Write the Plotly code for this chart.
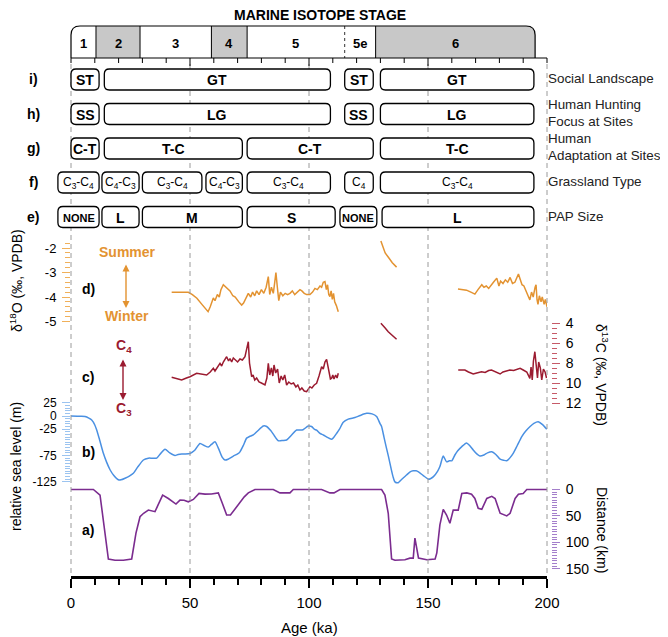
import plotly.graph_objects as go

# ---------------- data ----------------
# d) oxygen isotopes, d18O (permil, VPDB) - three segments
d18o_age_1 = [42.3, 49.3, 51.0, 52.9, 55.0, 57.6, 58.5, 59.8, 60.5, 61.5, 62.3, 63.0, 64.0, 65.2, 66.8, 68.0,
              69.0, 70.5, 71.7, 72.5, 73.5, 74.5, 75.5, 76.3, 77.2, 78.0, 79.0, 80.0, 81.0, 82.0, 82.9, 83.5,
              84.2, 85.0, 85.6, 86.1, 86.7, 87.3, 88.0, 89.0, 90.0, 91.0, 92.0, 93.0, 94.0, 95.0, 96.2, 97.0,
              98.0, 99.0, 100.4, 101.5, 102.5, 103.5, 104.6, 105.3, 106.0, 106.7, 107.3, 107.8, 108.3, 108.8,
              109.3, 109.8, 110.3, 110.8, 111.5, 112.3]
d18o_val_1 = [-3.81, -3.81, -3.9, -4.05, -4.3, -4.6, -4.4, -4.04, -4.15, -3.9, -4.0, -3.7, -3.5, -3.6, -3.75, -3.95,
              -4.0, -4.2, -4.33, -4.25, -4.05, -3.85, -4.0, -3.8, -3.95, -3.75, -3.9, -3.7, -3.85, -3.6, -3.17, -3.9,
              -3.6, -3.85, -3.4, -3.0, -3.6, -4.15, -3.8, -3.95, -3.85, -3.9, -3.85, -3.75, -3.9, -3.8, -3.7, -3.75,
              -3.85, -3.9, -3.9, -3.8, -3.65, -3.7, -3.55, -3.6, -3.4, -3.37, -3.7, -3.5, -3.9, -3.98,
              -3.75, -4.1, -3.85, -4.2, -4.35, -4.6]
d18o_age_2 = [130.2, 131.0, 132.0, 133.5, 135.0, 136.8]
d18o_val_2 = [-1.71, -1.95, -2.2, -2.4, -2.6, -2.78]
d18o_age_3 = [162.6, 164.0, 166.2, 168.0, 169.7, 171.0, 172.6, 173.5, 174.5, 175.5, 176.5, 177.5, 178.9, 179.8,
              180.5, 181.5, 182.5, 183.5, 184.5, 185.5, 186.5, 187.2, 188.0, 188.8, 189.5, 190.3, 191.0, 192.0,
              192.8, 193.5, 194.2, 195.0, 195.4, 195.8, 196.2, 196.8, 197.5, 198.0, 198.8, 199.3, 200.0]
d18o_val_3 = [-3.67, -3.68, -3.72, -3.8, -3.88, -3.7, -3.5, -3.6, -3.55, -3.65, -3.5, -3.4, -3.23, -3.55,
              -3.35, -3.45, -3.3, -3.4, -3.2, -3.45, -3.4, -3.2, -3.06, -3.3, -3.5, -3.55, -3.7, -3.9,
              -4.12, -3.8, -4.0, -3.6, -3.5, -4.1, -4.3, -3.95, -4.2, -4.0, -4.3, -4.1, -4.4]

# c) carbon isotopes, d13C (permil, VPDB) - three segments
d13c_age_1 = [42.3, 44.5, 46.5, 48.5, 50.0, 52.8, 55.0, 57.0, 58.5, 59.8, 60.5, 61.5, 62.6, 63.3, 64.0, 65.4,
              66.2, 66.8, 67.5, 68.2, 69.0, 70.0, 71.0, 72.0, 73.1, 74.0, 74.5, 75.0, 75.9, 76.5, 77.2, 78.0,
              79.0, 80.0, 81.5, 82.3, 82.9, 83.5, 84.2, 84.8, 85.3, 86.0, 86.8, 87.5, 88.3, 89.0, 89.8, 90.6,
              91.5, 92.5, 93.5, 94.5, 95.3, 96.2, 97.0, 98.0, 99.0, 100.4, 101.2, 102.2, 103.2, 104.2, 104.8,
              105.3, 106.0, 106.7, 107.4, 108.0, 108.5, 109.0, 109.5, 110.0, 110.5, 111.2, 111.8, 112.3]
d13c_val_1 = [9.43, 9.6, 9.7, 9.5, 9.37, 9.03, 9.15, 9.2, 8.9, 8.53, 8.8, 8.4, 8.03, 8.3, 7.9, 7.37,
              7.8, 7.55, 7.9, 7.5, 7.7, 7.9, 7.6, 7.7, 7.37, 6.5, 5.87, 8.0, 9.37, 9.2, 9.7, 9.5,
              9.9, 10.0, 10.2, 9.5, 8.03, 9.2, 8.5, 9.3, 8.2, 9.0, 8.6, 10.0, 9.3, 9.7, 9.2, 10.2,
              9.9, 10.1, 10.0, 10.4, 10.2, 10.7, 10.5, 10.8, 10.87, 10.37, 10.5, 10.2, 10.03, 9.3, 8.9,
              8.37, 8.6, 7.9, 7.63, 8.5, 9.03, 9.6, 9.53, 9.2, 9.6, 9.2, 9.5, 9.03]
d13c_age_2 = [130.2, 131.0, 132.0, 133.3, 135.0, 136.8]
d13c_val_2 = [4.03, 4.2, 4.5, 4.87, 5.25, 5.63]
d13c_age_3 = [162.7, 165.5, 167.0, 169.0, 170.5, 172.5, 174.0, 175.5, 176.7, 178.0, 180.3, 181.5, 183.0, 184.4,
              186.0, 187.5, 188.7, 190.0, 191.5, 192.8, 193.3, 193.8, 194.3, 194.9, 195.5, 196.0, 196.5, 197.2,
              197.8, 198.5, 199.2, 199.8]
d13c_val_3 = [8.7, 8.7, 8.9, 9.1, 9.0, 8.87, 8.95, 8.75, 8.7, 8.85, 9.1, 8.9, 8.8, 8.7,
              8.75, 8.6, 8.53, 8.7, 8.9, 9.53, 8.4, 9.7, 7.8, 6.87, 8.7, 9.5, 7.9, 8.5,
              9.7, 8.6, 8.9, 9.5]

# b) relative sea level (m)
sl_age = [0, 4, 5.9, 7.5, 8.7, 10, 10.8, 12, 13.6, 15, 16.4, 18, 19.9, 21, 22.7, 24.5, 26.2, 28, 30.4, 32.5,
          34, 36, 37.5, 39.5, 41.5, 43.7, 45, 46.5, 48, 50, 52, 54.2, 56, 57.7, 59, 60.5, 62, 63.5, 64.7, 66,
          68.2, 70, 71, 72.5, 73.8, 75, 76.6, 78.5, 80.8, 82, 84, 85.5, 87.1, 89, 90.6, 92.5, 94.8, 96.2, 97.5,
          99.7, 101.1, 102.2, 103.2, 104.6, 106, 107.5, 109.5, 110.5, 111.6, 112.8, 114.4, 116.5, 119.3, 121.5,
          124.2, 126.5, 128.4, 129.8, 130.5, 131.5, 132.5, 133.4, 134.5, 135.3, 136.1, 137.5, 139, 141, 142.5,
          143.8, 145, 146, 148, 150.2, 151, 152.3, 154, 155, 156.4, 157.8, 159, 160, 161.3, 162.5, 164.2, 166.2,
          167.5, 169, 170.5, 171.8, 173.5, 175, 176.8, 178.5, 180.3, 181.8, 183.1, 184.5, 185.8, 187.5, 189.4,
          191, 192.9, 194.5, 196.3, 198, 199.9]
sl_val = [0, -0.5, -1, -4, -7.6, -17, -26.6, -45, -70.8, -88, -102, -113, -121, -121, -118, -114, -108.8, -97, -83.5, -80,
          -80, -80, -72, -63, -70, -75, -73, -72, -72, -71, -65, -52, -56, -59, -54, -49, -62, -78, -83.5, -82,
          -76, -72, -68, -55, -42, -39, -36, -28, -19, -19.5, -28, -38, -47, -46.5, -45.5, -37, -26.6, -26.6, -26,
          -19, -20, -25, -27, -33, -36, -40, -44, -40, -33, -25, -12, -6, -3, 1,
          5, 4, -1, -14, -20, -40, -60, -77, -100, -115, -125, -126.6, -120, -112, -106,
          -104, -104, -106, -113, -120, -119, -115, -105, -96, -76, -87, -85, -85, -74, -66, -58, -51,
          -56, -64.5, -72, -76, -74, -70, -68, -73, -82, -84, -85, -79, -71, -56, -39,
          -29, -20, -14, -11, -16, -25]

# a) distance (km)
dist_age = [0, 9.4, 12.2, 13.5, 15.7, 18.5, 22, 25.5, 27.3, 29, 30.5, 32.5, 34, 35.3, 36.5, 38.5, 40.9, 42.5, 44.1,
            45.8, 47.5, 49.3, 51.4, 53.8, 56.3, 59, 61.9, 63.5, 65.4, 67, 69, 71, 72.8, 74.5, 77.3, 85, 87.8, 92,
            93.4, 105.3, 108.8, 110.5, 113, 130.5, 131.9, 133.3, 134.7, 136.1, 140.3, 142.4, 143.8, 144.5, 146,
            149.5, 153, 153.7, 155, 156.4, 157.8, 159.2, 160.6, 162.7, 164.2, 166.3, 168.3, 169.7, 171.1, 172.6,
            174.7, 176.8, 178.2, 180.3, 183.1, 184.5, 186.6, 188, 190, 191.5, 200]
dist_val = [0, 0, 10.7, 60, 131.6, 134, 134, 131.6, 82.7, 51.5, 45, 39, 41, 42, 30, 10.7, 17, 22, 27.6,
            20, 20.5, 23.3, 18.8, 7.5, 8.8, 8.5, 6.4, 25, 48.3, 48.3, 36, 23.3, 14, 6.4, 0, 0, 6.4, 6.4,
            0, 0, 6.4, 6.4, 0, 0, 10.7, 45, 131.6, 134, 133, 130, 130, 92, 129.7,
            133, 131.6, 120, 67, 37.6, 48.3, 64, 39, 39, 7.5, 6.4, 8.8, 17, 35.7, 37.6,
            17, 13, 17, 45, 50, 45, 17, 8.8, 7.5, 0, 0]

# Marine isotope stages
mis_labels = ['1', '2', '3', '4', '5', '5e', '6']
mis_start = [0, 10.5, 29, 59, 74, 115, 128]
mis_end = [10.5, 29, 59, 74, 115, 128, 195]
mis_shaded = [False, True, False, True, False, False, True]

# Interpretation rows (start ka, end ka, label)
row_i = [(0, 11.8, 'ST'), (14, 109, 'GT'), (115, 127, 'ST'), (130, 194.5, 'GT')]
row_h = [(0, 11.8, 'SS'), (14, 109, 'LG'), (115, 127, 'SS'), (130, 194.5, 'LG')]
row_g = [(0, 11.8, 'C-T'), (14, 72, 'T-C'), (74, 127, 'C-T'), (130, 194.5, 'T-C')]
row_f = [(-5.5, 11.8, 'C<sub>3</sub>-C<sub>4</sub>'), (13, 28.6, 'C<sub>4</sub>-C<sub>3</sub>'),
         (30, 55, 'C<sub>3</sub>-C<sub>4</sub>'), (56.7, 72, 'C<sub>4</sub>-C<sub>3</sub>'),
         (74, 109, 'C<sub>3</sub>-C<sub>4</sub>'), (115, 127, 'C<sub>4</sub>'), (130, 194.5, 'C<sub>3</sub>-C<sub>4</sub>')]
row_e = [(-5.5, 11.8, 'NONE'), (13, 28.6, 'L'), (30, 72, 'M'), (74, 111, 'S'), (113, 128.5, 'NONE'), (130.7, 194.5, 'L')]
row_letters = ['i)', 'h)', 'g)', 'f)', 'e)']
row_names = ['Social Landscape', 'Human Hunting<br>Focus at Sites', 'Human<br>Adaptation at Sites',
             'Grassland Type', 'PAP Size']

x_tick_vals = [0, 50, 100, 150, 200]
d18o_ticks = [-2, -3, -4, -5]
d13c_ticks = [4, 6, 8, 10, 12]
sl_ticks = [25, 0, -25, -75, -125]
dist_ticks = [0, 50, 100, 150]

# ---------------- layout helpers (pixel geometry of the 668x637 page) ----------------
PAGE_W, PAGE_H = 668, 637
OFF = 8                                 # page body margin in the browser
W, H = PAGE_W - OFF, PAGE_H - OFF       # figure size so that it fills the page exactly
X0, X1 = 71, 547                        # page pixels of 0 and 200 ka
KA = (X1 - X0) / 200.0                  # px per ka
FONT = 'Liberation Sans, Arial, sans-serif'
ORANGE, RED, BLUE, PURPLE = '#E39331', '#9B1B30', '#4A90E2', '#7B2C8F'
OR_T, RED_T, BLUE_T, PUR_T = '#F0B05A', '#C65A68', '#9CC4F0', '#A47FCB'


def px(x):
    return (x - OFF) / W


def py(y):
    return 1 - (y - OFF) / H


def dom(ytop, ybot):
    return [py(ybot), py(ytop)]


def join(*segs):
    out = []
    for i, s in enumerate(segs):
        if i:
            out.append(None)
        out.extend(s)
    return out


# page pixel -> value calibrations for each panel
def v_d18o(y): return -2 - (y - 248) / 24.5
def v_d13c(y): return 4 + (y - 323) / 10.0
def v_sl(y): return -(y - 416) / 0.527
def v_dist(y): return (y - 489.5) / 0.528


fig = go.Figure()
# helper (whole-figure) subplot: x2 in ka, y in page pixels
fig.add_trace(go.Scatter(x=[None], y=[None], xaxis='x2', yaxis='y', showlegend=False, hoverinfo='skip'))
fig.add_trace(go.Scatter(x=join(d18o_age_1, d18o_age_2, d18o_age_3), y=join(d18o_val_1, d18o_val_2, d18o_val_3),
                         xaxis='x', yaxis='y2', mode='lines', line=dict(color=ORANGE, width=1.5), showlegend=False))
fig.add_trace(go.Scatter(x=join(d13c_age_1, d13c_age_2, d13c_age_3), y=join(d13c_val_1, d13c_val_2, d13c_val_3),
                         xaxis='x', yaxis='y3', mode='lines', line=dict(color=RED, width=1.5), showlegend=False))
fig.add_trace(go.Scatter(x=sl_age, y=sl_val, xaxis='x', yaxis='y4', mode='lines',
                         line=dict(color=BLUE, width=1.5, shape='spline', smoothing=0.6), showlegend=False))
fig.add_trace(go.Scatter(x=dist_age, y=dist_val, xaxis='x', yaxis='y5', mode='lines',
                         line=dict(color=PURPLE, width=1.6), showlegend=False))

shapes = []
annotations = []


def ann(x, y, text, size=14, color='black', xanchor='center', **kw):
    d = dict(x=px(x), y=py(y), xref='paper', yref='paper', text=text, showarrow=False, xanchor=xanchor,
             yanchor='middle', font=dict(size=size, color=color, family=FONT))
    d.update(kw)
    return d


# dashed guides
for g in x_tick_vals:
    shapes.append(dict(type='line', xref='x2', yref='y', x0=g, x1=g, y0=64, y1=577, layer='below',
                       line=dict(color='#9a9a9a', width=1, dash='5px,4px')))


def rrect(x0, x1, y0, y1, r):
    rx = r / KA
    return (f"M {x0+rx},{y0} L {x1-rx},{y0} Q {x1},{y0} {x1},{y0+r} L {x1},{y1-r} "
            f"Q {x1},{y1} {x1-rx},{y1} L {x0+rx},{y1} Q {x0},{y1} {x0},{y1-r} L {x0},{y0+r} "
            f"Q {x0},{y0} {x0+rx},{y0} Z")


# ---- Marine isotope stage bar ----
MT, MB, RM = 26, 58, 9
rxm = RM / KA
for s, e, lab, sh in zip(mis_start, mis_end, mis_labels, mis_shaded):
    if sh:
        if e == mis_end[-1]:
            path = f"M {s},{MB} L {s},{MT} L {e-rxm},{MT} Q {e},{MT} {e},{MT+RM} L {e},{MB} Z"
            shapes.append(dict(type='path', xref='x2', yref='y', path=path, fillcolor='#c8c8c8',
                               line=dict(width=0)))
        else:
            shapes.append(dict(type='rect', xref='x2', yref='y', x0=s, x1=e, y0=MT, y1=MB,
                               fillcolor='#c8c8c8', line=dict(width=0)))
    annotations.append(dict(x=(s + e) / 2, y=43, xref='x2', yref='y', text=f'<b>{lab}</b>', showarrow=False,
                            xanchor='center', yanchor='middle', font=dict(size=13, color='black', family=FONT)))
for s, lab in zip(mis_start[1:], mis_labels[1:]):
    shapes.append(dict(type='line', xref='x2', yref='y', x0=s, x1=s, y0=MT, y1=MB,
                       line=dict(color='#333333' if lab == '5e' else 'black', width=1,
                                 dash='dot' if lab == '5e' else 'solid')))
xe = mis_end[-1]
shapes.append(dict(type='path', xref='x2', yref='y',
                   path=f"M 0,{MB} L 0,{MT+RM} Q 0,{MT} {rxm},{MT} L {xe-rxm},{MT} Q {xe},{MT} {xe},{MT+RM} L {xe},{MB}",
                   line=dict(color='black', width=1.2)))
# ruler under the stage bar
shapes.append(dict(type='line', xref='x2', yref='y', x0=0, x1=200, y0=MB, y1=MB, line=dict(color='black', width=1.2)))
for t in range(0, 201, 10):
    shapes.append(dict(type='line', xref='x2', yref='y', x0=t, x1=t, y0=MB, y1=MB + (8 if t % 50 == 0 and 0 < t < 200 else 5),
                       line=dict(color='black', width=1)))
annotations.append(ann(320, 15, '<b>MARINE ISOTOPE STAGE</b>', 14))

# ---- interpretation rows ----
row_y = [79.5, 114, 148.5, 182.5, 217]
rows = [row_i, row_h, row_g, row_f, row_e]
for k, (yc, boxes) in enumerate(zip(row_y, rows)):
    y0, y1 = yc - 10.5, yc + 10.5
    for s, e, lab in boxes:
        shapes.append(dict(type='path', xref='x2', yref='y', path=rrect(s, e, y0, y1, 5),
                           fillcolor='white', line=dict(color='black', width=1.3)))
        if k == 3:
            txt, fs = lab, 12
        elif lab == 'NONE':
            txt, fs = '<b>NONE</b>', 11
        else:
            txt, fs = f'<b>{lab}</b>', 14
        annotations.append(dict(x=(s + e) / 2, y=yc + 0.5, xref='x2', yref='y', text=txt, showarrow=False,
                                xanchor='center', yanchor='middle', font=dict(size=fs, color='black', family=FONT)))
    annotations.append(ann(33, yc, f'<b>{row_letters[k]}</b>', 14))
    annotations.append(ann(546, yc - 1, row_names[k], 13.4, '#222222', xanchor='left', align='left'))

# ---- panel letters and annotations ----
for lab, yy in [('d)', 289), ('c)', 377), ('b)', 452), ('a)', 530)]:
    annotations.append(ann(88, yy, f'<b>{lab}</b>', 14))

annotations += [
    ann(127, 252, '<b>Summer</b>', 14, ORANGE),
    ann(127, 316, '<b>Winter</b>', 14, ORANGE),
    dict(x=px(126), y=py(308), xref='paper', yref='paper', ax=0, ay=-45, text='', showarrow=True,
         arrowside='end+start', arrowhead=2, startarrowhead=2, arrowsize=1, arrowwidth=1.4, arrowcolor=ORANGE),
    ann(124, 346, '<b>C<sub>4</sub></b>', 14, RED),
    ann(124, 409, '<b>C<sub>3</sub></b>', 14, RED),
    dict(x=px(123), y=py(400), xref='paper', yref='paper', ax=0, ay=-42, text='', showarrow=True,
         arrowside='end+start', arrowhead=2, startarrowhead=2, arrowsize=1, arrowwidth=1.4, arrowcolor=RED),
    # axis titles
    ann(16, 281, 'δ<sup>18</sup>O (‰, VPDB)', 14, textangle=-90),
    ann(16, 467, 'relative sea level (m)', 14, textangle=-90),
    ann(602, 375, 'δ<sup>13</sup>C (‰, VPDB)', 14, textangle=90),
    ann(602, 530, 'Distance (km)', 14, textangle=90),
    ann(309, 627, 'Age (ka)', 15),
]


def yaxis_common(color, ticks, labels, minor_vals, side_pos, fsize=13):
    d = dict(showgrid=False, zeroline=False, showline=False, ticks='outside', tickmode='array',
             tickvals=ticks, ticktext=labels, ticklen=8, tickwidth=1, tickcolor=color, automargin=False,
             minor=dict(tickmode='array', tickvals=minor_vals, ticks='outside', ticklen=5, tickwidth=1, tickcolor=color),
             tickfont=dict(size=fsize, color='black', family=FONT), ticklabelstandoff=3, fixedrange=True)
    if side_pos == 'left':
        d.update(anchor='x', side='left')
    else:
        d.update(anchor='free', position=px(551), side='right')
    return d


d18o_minor = [round(-1.8 - 0.2 * i, 2) for i in range(17)]
d13c_minor = [4 + 0.5 * i for i in range(17)]
sl_minor = list(range(-125, 26, 5))
dist_minor = list(range(0, 151, 5))

ya2 = yaxis_common(OR_T, d18o_ticks, [str(t) for t in d18o_ticks], d18o_minor, 'left', 13)
ya2.update(domain=dom(236, 330), range=[v_d18o(330), v_d18o(236)])
ya3 = yaxis_common(RED_T, d13c_ticks, [str(t) for t in d13c_ticks], d13c_minor, 'right', 14)
ya3.update(domain=dom(315, 410), range=[v_d13c(410), v_d13c(315)])
ya4 = yaxis_common(BLUE_T, sl_ticks, [str(t) for t in sl_ticks], sl_minor, 'left', 12)
ya4.update(domain=dom(398, 490), range=[v_sl(490), v_sl(398)])
ya5 = yaxis_common(PUR_T, dist_ticks, [str(t) for t in dist_ticks], dist_minor, 'right', 14)
ya5.update(domain=dom(484, 575), range=[v_dist(575), v_dist(484)])

fig.update_layout(
    template='none',
    width=W, height=H, margin=dict(l=0, r=0, t=0, b=0, pad=0, autoexpand=False),
    paper_bgcolor='white', plot_bgcolor='rgba(0,0,0,0)',
    font=dict(family=FONT, color='black'),
    showlegend=False,
    xaxis=dict(domain=[px(X0), px(X1)], range=[0, 200], anchor='free', position=py(577), automargin=False,
               showline=True, linewidth=2.5, linecolor='black', showgrid=False, zeroline=False,
               ticks='outside', tickmode='array', tickvals=x_tick_vals, ticklen=9, tickwidth=2, tickcolor='black',
               minor=dict(tickmode='array', tickvals=list(range(0, 201, 10)), ticks='outside', ticklen=6,
                          tickwidth=2, tickcolor='black'),
               tickfont=dict(size=15, color='black', family=FONT), ticklabelstandoff=2, fixedrange=True),
    xaxis2=dict(domain=[0, 1], range=[(OFF - X0) / KA, (PAGE_W - X0) / KA], visible=False, anchor='y',
                fixedrange=True, automargin=False),
    yaxis=dict(domain=[0, 1], range=[PAGE_H, OFF], visible=False, anchor='x2', fixedrange=True, automargin=False),
    yaxis2=ya2, yaxis3=ya3, yaxis4=ya4, yaxis5=ya5,
    shapes=shapes, annotations=annotations,
)

fig.write_html('out.html')
